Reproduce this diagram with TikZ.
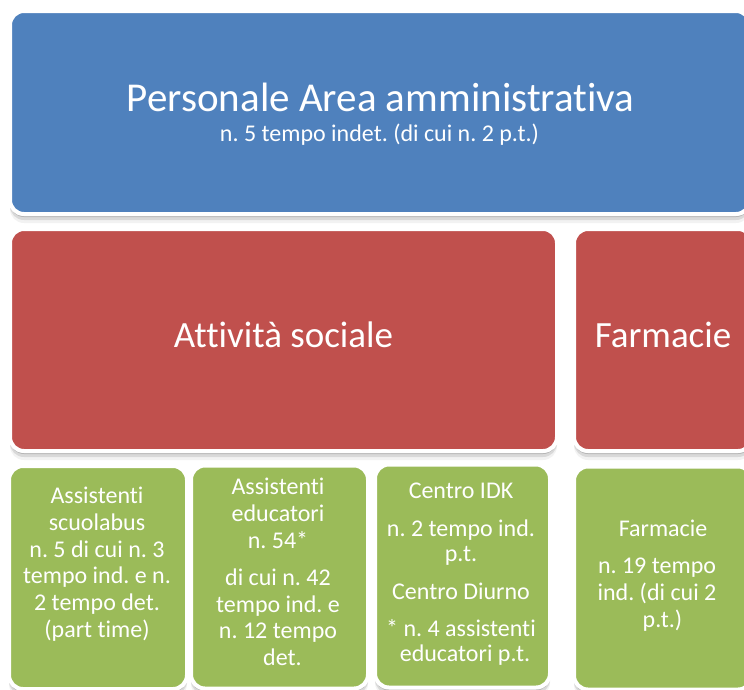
\documentclass[tikz,border=0pt]{standalone}
\usepackage{fontspec}
\setmainfont{Carlito}[Ligatures={NoCommon,NoContextual}]
\frenchspacing
\usetikzlibrary{shadows}
\definecolor{blueA}{HTML}{4F81BD}
\definecolor{redA}{HTML}{C0504D}
\definecolor{greenA}{HTML}{9BBB59}
\tikzset{
  softshadow/.style={
    general shadow={shadow xshift=0pt, shadow yshift=-9pt, fill=black, draw=none, opacity=0.05},
    general shadow={shadow xshift=0pt, shadow yshift=-6pt, fill=black, draw=none, opacity=0.10},
    general shadow={shadow xshift=0pt, shadow yshift=-3pt, fill=black, draw=none, opacity=0.16}},
  panel/.style={rounded corners=14pt, draw=white, line width=4pt, inner sep=0pt, softshadow},
  bluepanel/.style={panel, fill=blueA},
  redpanel/.style={panel, fill=redA},
  greenpanel/.style={panel, fill=greenA},
  wtext/.style={text=white, inner sep=0pt, anchor=base},
  gtext/.style={text=white, align=center, inner sep=0pt, anchor=north,
    font=\fontsize{24}{26.7}\selectfont\frenchspacing, execute at begin node=\strut},
  gtextb/.style={text=white, align=center, inner sep=0pt, anchor=north,
    font=\fontsize{24}{25.3}\selectfont\frenchspacing, execute at begin node=\strut}
}
\begin{document}
\begin{tikzpicture}[x=1pt,y=-1pt]
\useasboundingbox (0,0) rectangle (744,689);
\fill[white] (0,0) rectangle (744,689);

% panels
\node[bluepanel, minimum width=740pt, minimum height=203pt] (area) at (380,112.5) {};
\node[redpanel, minimum width=547pt, minimum height=222pt] (sociale) at (283.5,340) {};
\node[redpanel, minimum width=178pt, minimum height=222pt] (farm) at (663,340) {};
\node[greenpanel, minimum width=178pt, minimum height=223pt] (g1) at (98,577.5) {};
\node[greenpanel, minimum width=177pt, minimum height=223pt] (g2) at (279.5,577) {};
\node[greenpanel, minimum width=175pt, minimum height=223pt] (g3) at (462.5,576) {};
\node[greenpanel, minimum width=178pt, minimum height=223pt] (g4) at (663,578) {};

% texts
\node[wtext, font=\fontsize{41}{49}\selectfont] (title) at (380.5,111) {Personale Area amministrativa};
\node[wtext, font=\fontsize{24}{29}\selectfont\frenchspacing] (subtitle) at (379.5,141.5) {n. 5 tempo indet. (di cui n. 2 p.t.)};
\node[wtext, font=\fontsize{37}{44}\selectfont] (tsociale) at (283.5,347.3) {Attività sociale};
\node[wtext, font=\fontsize{37}{44}\selectfont] (tfarm) at (663,347.3) {Farmacie};

\node[gtext] (t1) at (97,487.0) {Assistenti\\scuolabus\\n. 5 di cui n. 3\\tempo ind. e n.\\2 tempo det.\\(part time)};
\node[gtext] (t2) at (278,478.0) {Assistenti\\educatori\\n. 54*\\[10.7pt]di cui n. 42\\tempo ind. e\\n. 12 tempo\\\hspace*{9pt}det.};
\node[gtextb] (t3) at (461,483.0) {Centro IDK\\[12.3pt]n. 2 tempo ind.\\p.t.\\[12.4pt]Centro Diurno\\[11.9pt]* n. 4 assistenti\\\hspace*{8pt}educatori p.t.};
\node[gtext] (t4) at (657,519.6) {\hspace*{12pt}Farmacie\\[10.7pt]n. 19 tempo\\ind. (di cui 2\\\hspace*{11pt}p.t.)};
\end{tikzpicture}
\end{document}
